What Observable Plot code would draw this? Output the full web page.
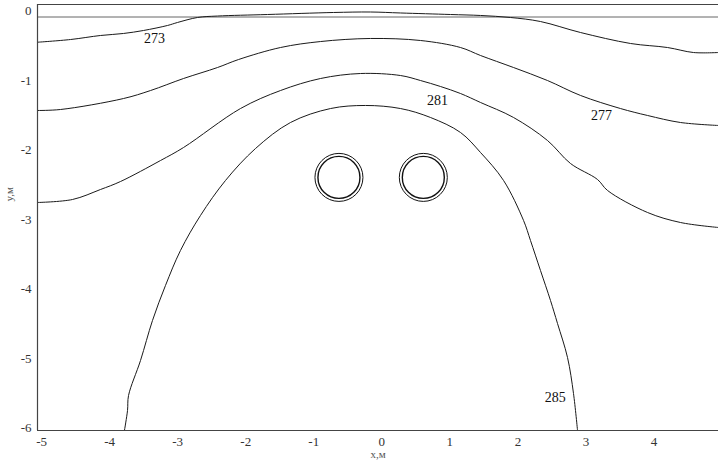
<!DOCTYPE html>
<html><head><meta charset="utf-8">
<script src="https://cdn.jsdelivr.net/npm/d3@7"></script>
<script src="https://cdn.jsdelivr.net/npm/@observablehq/plot@0.6"></script>
<style>body{margin:0;background:#fff} svg text{font-family:"Liberation Serif","DejaVu Serif",serif !important;}</style>
</head><body><div id="chart"></div>
<script>
const xTicks = [-5,-4,-3,-2,-1,0,1,2,3,4,5];
const yTicks = [0,-1,-2,-3,-4,-5,-6];
const xDomain = [-5.06, 4.948];
const yDomain = [-6.032, 0.098];
const groundLevel = -0.082;

const contourLevels = [273, 277, 281, 285];

const c273X = [-5.06,-4.575,-4.134,-3.796,-3.502,-3.150,-3.003,-2.709,-2.415,-1.680,-0.710,-0.166,0.275,1.010,1.451,1.891,2.332,2.920,3.655,4.199,4.581,4.948];
const c273Y = [-0.445,-0.406,-0.348,-0.319,-0.276,-0.204,-0.161,-0.089,-0.068,-0.046,-0.017,-0.010,-0.024,-0.046,-0.060,-0.089,-0.147,-0.305,-0.463,-0.521,-0.593,-0.593];

const c277X = [-5.06,-4.722,-3.796,-3.399,-2.914,-2.415,-2.106,-1.489,-0.901,-0.166,0.569,1.157,1.451,1.936,2.435,2.920,3.508,3.905,4.390,4.948];
const c277Y = [-1.427,-1.413,-1.255,-1.140,-0.967,-0.809,-0.694,-0.521,-0.435,-0.391,-0.420,-0.521,-0.636,-0.809,-0.996,-1.211,-1.399,-1.499,-1.600,-1.643];

const c281X = [-5.06,-4.546,-4.134,-3.840,-3.252,-2.914,-2.077,-1.489,-0.901,-0.313,0.275,0.569,0.863,1.157,1.451,1.936,2.435,2.773,3.170,3.317,3.905,4.390,4.948];
const c281Y = [-2.751,-2.708,-2.564,-2.449,-2.147,-1.960,-1.399,-1.140,-0.967,-0.895,-0.924,-0.996,-1.082,-1.183,-1.312,-1.528,-1.859,-2.190,-2.420,-2.578,-2.895,-3.039,-3.111];

const c285X = [-3.782,-3.737,-3.722,-3.546,-3.370,-3.179,-2.959,-2.665,-2.297,-1.856,-1.342,-0.754,-0.240,0.275,0.716,1.157,1.451,1.789,2.083,2.185,2.332,2.479,2.582,2.729,2.817,2.876];
const c285Y = [-6.03,-5.744,-5.528,-5.024,-4.449,-3.945,-3.442,-2.938,-2.434,-1.974,-1.600,-1.399,-1.355,-1.399,-1.528,-1.744,-2.032,-2.434,-3.010,-3.298,-3.730,-4.161,-4.492,-4.981,-5.499,-6.03];

const labelX = [-3.34, 3.23, 0.82, 2.55];
const labelY = [-0.39, -1.50, -1.28, -5.56];

const pipeX = [-0.63, 0.61];
const pipeY = [-2.39, -2.39];
const pipeOuterR = 24;
const pipeInnerR = 21;

const serif = "Liberation Serif";
const xs = [c273X, c277X, c281X, c285X];
const ys = [c273Y, c277Y, c281Y, c285Y];
const contourRows = contourLevels.flatMap((lv, i) => xs[i].map((x, j) => ({level: lv, x, y: ys[i][j]})));
const labelRows = contourLevels.map((lv, i) => ({level: lv, x: labelX[i], y: labelY[i]}));
const pipeRows = pipeX.map((x, i) => ({x, y: pipeY[i]}));

const chart = Plot.plot({
  width: 718,
  height: 462,
  marginLeft: 37,
  marginRight: 0,
  marginTop: 4,
  marginBottom: 32,
  style: {fontFamily: serif, fontSize: "13px", background: "#fff", overflow: "visible"},
  x: {domain: xDomain},
  y: {domain: yDomain},
  marks: [
    Plot.ruleY([groundLevel], {stroke: "#666", strokeWidth: 1}),
    Plot.line(contourRows, {x: "x", y: "y", z: "level", stroke: "#1a1a1a", strokeWidth: 1, curve: "catmull-rom"}),
    Plot.dot(pipeRows, {x: "x", y: "y", r: pipeOuterR, stroke: "#111", strokeWidth: 1, fill: "none"}),
    Plot.dot(pipeRows, {x: "x", y: "y", r: pipeInnerR, stroke: "#111", strokeWidth: 1.4, fill: "none"}),
    Plot.text(labelRows, {x: "x", y: "y", text: d => String(d.level), fill: "#111", fontSize: 14, fontFamily: serif}),
    Plot.ruleX([xDomain[0]], {stroke: "#444", strokeWidth: 1.2}),
    Plot.ruleY([yDomain[1]], {stroke: "#444", strokeWidth: 1.2}),
    Plot.ruleY([yDomain[0]], {stroke: "#444", strokeWidth: 1.2}),
    Plot.axisX({ticks: xTicks, tickSize: 0, tickPadding: 6, tickFormat: d => String(d), label: null, fill: "#333", fontFamily: serif, fontSize: 13}),
    Plot.axisY({ticks: yTicks, tickSize: 0, tickPadding: 6, tickFormat: d => String(d), label: null, fill: "#333", fontFamily: serif, fontSize: 13}),
    Plot.text(["x,м"], {frameAnchor: "bottom", dy: 27, fill: "#555", fontSize: 11, fontFamily: serif}),
    Plot.text(["y,м"], {frameAnchor: "left", dx: -28, dy: -16, rotate: -90, fill: "#555", fontSize: 11, fontFamily: serif})
  ]
});
document.getElementById("chart").appendChild(chart);
</script>
</body></html>
